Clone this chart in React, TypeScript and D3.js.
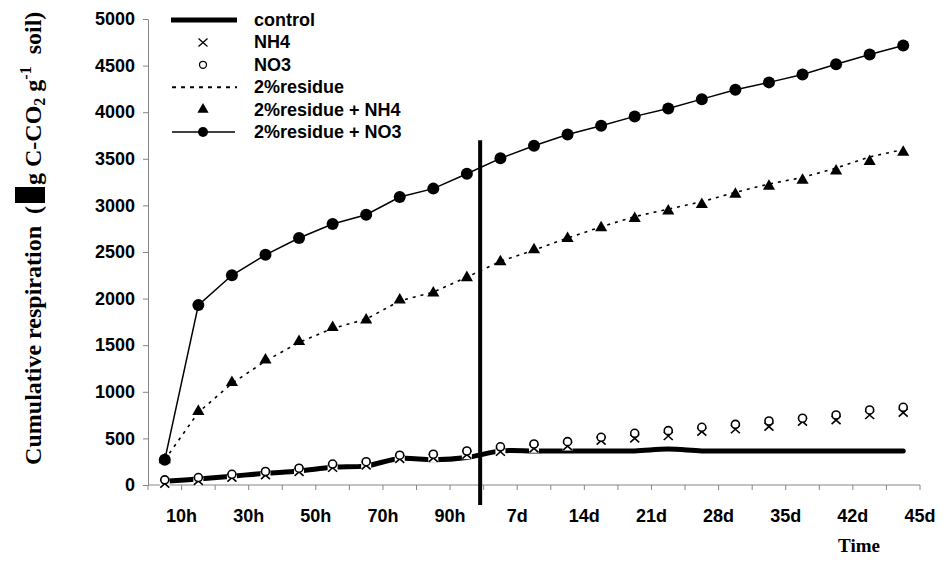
import React, { useRef, useEffect } from "react";
import * as d3 from "d3";

const categories = [
  "10h", "20h", "30h", "40h", "50h", "60h", "70h", "80h", "90h", "100h",
  "7d", "10d", "14d", "17d", "21d", "24d", "28d", "31d", "35d", "38d", "42d", "44d", "45d",
];
// only every other category gets a label
const labelled = ["10h", "30h", "50h", "70h", "90h", "7d", "14d", "21d", "28d", "35d", "42d", "45d"];
const yTicks = [0, 500, 1000, 1500, 2000, 2500, 3000, 3500, 4000, 4500, 5000];

const control = [40, 65, 95, 125, 150, 190, 205, 285, 270, 295, 365, 365, 365, 365, 365, 385, 365, 365, 365, 365, 365, 365, 365];
const nh4 = [15, 45, 80, 105, 140, 185, 210, 280, 290, 325, 357, 394, 418, 476, 501, 526, 572, 598, 626, 679, 697, 751, 776];
const no3 = [55, 80, 115, 145, 180, 225, 250, 320, 330, 365, 410, 440, 465, 512, 555, 583, 619, 651, 687, 716, 751, 805, 834];
const residue = [270, 780, 1090, 1330, 1530, 1680, 1780, 1975, 2070, 2230, 2400, 2520, 2650, 2770, 2880, 2960, 3040, 3140, 3230, 3300, 3400, 3520, 3600];
const residueNH4 = [270, 790, 1100, 1340, 1540, 1690, 1770, 1985, 2060, 2225, 2395, 2525, 2645, 2760, 2860, 2940, 3010, 3120, 3205, 3270, 3370, 3470, 3570];
const residueNO3 = [270, 1930, 2250, 2470, 2650, 2800, 2900, 3090, 3180, 3340, 3505, 3640, 3760, 3855, 3955, 4040, 4140, 4240, 4320, 4405, 4515, 4620, 4715];

const legendNames = ["control", "NH4", "NO3", "2%residue", "2%residue + NH4", "2%residue + NO3"];

const sans = "'Liberation Sans', Arial, sans-serif";
const serif = "'Liberation Serif', 'Times New Roman', serif";
const axisGrey = "#868686";

function Chart() {
  const ref = useRef<SVGSVGElement>(null);

  useEffect(() => {
    const svg = d3.select(ref.current);
    svg.selectAll("*").remove();

    const x = d3.scaleBand<string>().domain(categories).range([148, 920]);
    const cx = (i: number) => (x(categories[i]) as number) + x.bandwidth() / 2;
    const y = d3.scaleLinear().domain([0, 5000]).range([485, 19]);

    // y axis
    const yAxis = svg
      .append("g")
      .attr("transform", "translate(148,0)")
      .call(
        d3.axisLeft(y).tickValues(yTicks).tickFormat(d3.format("d")).tickSize(5).tickSizeOuter(0).tickPadding(8)
      );
    yAxis.select(".domain").attr("stroke", axisGrey);
    yAxis.selectAll(".tick line").attr("stroke", axisGrey);
    yAxis
      .selectAll(".tick text")
      .attr("fill", "#000")
      .style("font-family", sans)
      .style("font-weight", "bold")
      .style("font-size", "18px");

    // x axis (category boundaries)
    const xg = svg.append("g");
    xg.append("line")
      .attr("x1", 148).attr("x2", 920)
      .attr("y1", 485).attr("y2", 485)
      .attr("stroke", axisGrey);
    xg.selectAll("line.tk")
      .data(d3.range(categories.length + 1))
      .join("line")
      .attr("class", "tk")
      .attr("x1", (k) => 148 + k * x.step())
      .attr("x2", (k) => 148 + k * x.step())
      .attr("y1", 485)
      .attr("y2", 490)
      .attr("stroke", axisGrey);
    xg.selectAll("text")
      .data(labelled)
      .join("text")
      .attr("x", (d) => (x(d) as number) + x.bandwidth())
      .attr("y", 522)
      .attr("text-anchor", "middle")
      .style("font-family", sans)
      .style("font-weight", "bold")
      .style("font-size", "18px")
      .text((d) => d);

    svg.append("text")
      .attr("x", 859).attr("y", 552)
      .attr("text-anchor", "middle")
      .style("font-family", serif)
      .style("font-weight", "bold")
      .style("font-size", "19px")
      .text("Time");

    // y label
    const yl = svg.append("g");
    yl.append("text")
      .attr("transform", "translate(41,206) rotate(-90)")
      .attr("text-anchor", "end")
      .style("font-family", serif)
      .style("font-weight", "bold")
      .style("font-size", "24px")
      .style("white-space", "pre")
      .text("Cumulative respiration  (");
    yl.append("rect").attr("x", 15).attr("y", 187).attr("width", 30).attr("height", 16).attr("fill", "#000");
    const t2 = yl.append("text")
      .attr("transform", "translate(41,185) rotate(-90)")
      .style("font-family", serif)
      .style("font-weight", "bold")
      .style("font-size", "24px")
      .style("white-space", "pre");
    t2.append("tspan").text("g C-CO");
    t2.append("tspan").attr("dy", 4).style("font-size", "16px").text("2");
    t2.append("tspan").attr("dy", -4).text(" g");
    t2.append("tspan").attr("dy", -10).style("font-size", "16px").text("-1");
    t2.append("tspan").attr("dy", 10).text("  soil)");

    const plot = svg.append("g");

    // control
    plot.append("path")
      .datum(control)
      .attr("d", d3.line<number>().x((d, i) => cx(i)).y((d) => y(d)).curve(d3.curveCatmullRom.alpha(0.5)))
      .attr("fill", "none")
      .attr("stroke", "#000")
      .attr("stroke-width", 5)
      .attr("stroke-linecap", "round");

    // NH4: x markers with white box
    const xm = plot.selectAll("g.nh4").data(nh4).join("g").attr("class", "nh4")
      .attr("transform", (d, i) => `translate(${cx(i)},${y(d)})`);
    xm.append("rect").attr("x", -5).attr("y", -4.5).attr("width", 10).attr("height", 9).attr("fill", "#fff");
    xm.append("path").attr("d", "M-4.5,-4L4.5,4M-4.5,4L4.5,-4").attr("stroke", "#000").attr("stroke-width", 1.6);

    // NO3: open circles
    plot.selectAll("circle.no3").data(no3).join("circle").attr("class", "no3")
      .attr("cx", (d, i) => cx(i)).attr("cy", (d) => y(d)).attr("r", 4)
      .attr("fill", "#fff").attr("stroke", "#000").attr("stroke-width", 1.6);

    // 2% residue dotted
    plot.append("path")
      .datum(residue)
      .attr("d", d3.line<number>().x((d, i) => cx(i)).y((d) => y(d)))
      .attr("fill", "none")
      .attr("stroke", "#000")
      .attr("stroke-width", 1.6)
      .attr("stroke-dasharray", "3,5");

    // 2% residue + NH4 triangles
    const tri = d3.symbol().type(d3.symbolTriangle).size(64);
    plot.selectAll("path.rnh4").data(residueNH4).join("path").attr("class", "rnh4")
      .attr("transform", (d, i) => `translate(${cx(i)},${y(d)})`)
      .attr("d", tri())
      .attr("fill", "#000");

    // 2% residue + NO3 line + dots
    plot.append("path")
      .datum(residueNO3)
      .attr("d", d3.line<number>().x((d, i) => cx(i)).y((d) => y(d)))
      .attr("fill", "none")
      .attr("stroke", "#000")
      .attr("stroke-width", 1.5);
    plot.selectAll("circle.rno3").data(residueNO3).join("circle").attr("class", "rno3")
      .attr("cx", (d, i) => cx(i)).attr("cy", (d) => y(d)).attr("r", 6)
      .attr("fill", "#000");

    // hours / days separator
    const sx = (x("7d") as number) - 3.5;
    plot.append("line")
      .attr("x1", sx).attr("x2", sx)
      .attr("y1", y(3700)).attr("y2", 505)
      .attr("stroke", "#000").attr("stroke-width", 4);

    // legend
    const lg = svg.append("g");
    const rowY = (k: number) => 20 + k * 22.4;
    lg.append("line").attr("x1", 171).attr("x2", 237).attr("y1", rowY(0)).attr("y2", rowY(0))
      .attr("stroke", "#000").attr("stroke-width", 5);
    lg.append("path").attr("transform", `translate(203,${rowY(1)})`)
      .attr("d", "M-4.5,-4L4.5,4M-4.5,4L4.5,-4").attr("stroke", "#000").attr("stroke-width", 1.3);
    lg.append("circle").attr("cx", 203).attr("cy", rowY(2)).attr("r", 3.5)
      .attr("fill", "#fff").attr("stroke", "#000").attr("stroke-width", 1.3);
    lg.append("line").attr("x1", 172).attr("x2", 237).attr("y1", rowY(3)).attr("y2", rowY(3))
      .attr("stroke", "#000").attr("stroke-width", 2).attr("stroke-dasharray", "4,5");
    lg.append("path").attr("transform", `translate(203,${rowY(4)})`)
      .attr("d", d3.symbol().type(d3.symbolTriangle).size(55)()).attr("fill", "#000");
    lg.append("line").attr("x1", 172).attr("x2", 235).attr("y1", rowY(5)).attr("y2", rowY(5))
      .attr("stroke", "#000").attr("stroke-width", 1.5);
    lg.append("circle").attr("cx", 203).attr("cy", rowY(5)).attr("r", 5).attr("fill", "#000");
    lg.selectAll("text").data(legendNames).join("text")
      .attr("x", 254)
      .attr("y", (d, k) => rowY(k) + 6)
      .style("font-family", sans)
      .style("font-weight", "bold")
      .style("font-size", "18px")
      .style("white-space", "pre")
      .text((d) => d);
  }, []);

  return (
    <svg
      ref={ref}
      width={944}
      height={579}
      style={{ position: "absolute", left: 0, top: 0, background: "#fff" }}
    ></svg>
  );
}

export default function App() {
  return <Chart />;
}
